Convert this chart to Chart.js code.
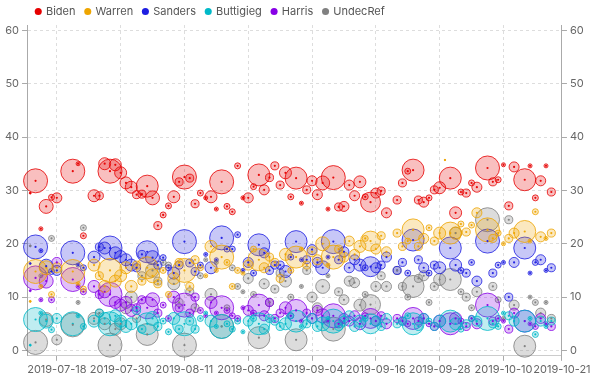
<!DOCTYPE html>
<html><head><meta charset="utf-8">
<script src="https://cdn.jsdelivr.net/npm/chart.js@4/dist/chart.umd.min.js"></script>
<style>html,body{margin:0;padding:0;background:#fff;}#wrap{width:599px;height:378px;position:relative;}</style>
</head><body><div id="wrap"><canvas id="c" width="599" height="378"></canvas></div>
<script>
const pollDates = ['2019-07-13','2019-07-14','2019-07-15','2019-07-16','2019-07-17','2019-07-18','2019-07-21','2019-07-22','2019-07-23','2019-07-25','2019-07-26','2019-07-27','2019-07-28','2019-07-29','2019-07-30','2019-07-31','2019-08-01','2019-08-02','2019-08-03','2019-08-04','2019-08-05','2019-08-06','2019-08-07','2019-08-08','2019-08-09','2019-08-10','2019-08-11','2019-08-12','2019-08-13','2019-08-14','2019-08-15','2019-08-16','2019-08-17','2019-08-18','2019-08-19','2019-08-20','2019-08-21','2019-08-22','2019-08-23','2019-08-24','2019-08-25','2019-08-26','2019-08-27','2019-08-28','2019-08-29','2019-08-30','2019-08-31','2019-09-01','2019-09-02','2019-09-03','2019-09-04','2019-09-05','2019-09-06','2019-09-07','2019-09-08','2019-09-09','2019-09-10','2019-09-11','2019-09-12','2019-09-13','2019-09-14','2019-09-15','2019-09-16','2019-09-17','2019-09-18','2019-09-20','2019-09-21','2019-09-22','2019-09-23','2019-09-24','2019-09-25','2019-09-26','2019-09-27','2019-09-28','2019-09-29','2019-09-30','2019-10-01','2019-10-02','2019-10-03','2019-10-04','2019-10-05','2019-10-07','2019-10-08','2019-10-09','2019-10-10','2019-10-11','2019-10-12','2019-10-14','2019-10-15','2019-10-16','2019-10-17','2019-10-18','2019-10-19'];
const sampleSizes = [110,16000,450,5400,1000,2800,16000,450,1000,4000,1800,4000,16000,4000,4000,4000,4000,1800,1800,13400,5400,1800,1000,1000,4000,1800,16000,1800,1800,1000,450,4000,450,16000,1000,1000,1000,450,2800,1000,13400,2800,1800,1800,1800,4000,1000,13400,450,1800,2800,2800,5400,450,16000,1800,2800,2800,2800,4000,1000,11000,2800,1800,2800,1800,1800,1000,13400,1800,2800,1000,1800,4000,60,13400,4000,1000,1800,1000,2800,16000,1800,1000,450,1800,2800,13400,450,1000,2800,450,1800];
const biden = [29.5,31.8,22.8,27.0,28.7,28.6,33.6,35.0,21.5,29.0,29.0,35.0,33.6,34.8,33.3,31.4,30.6,29.2,29.3,30.8,28.6,23.4,25.4,27.1,28.8,31.6,32.5,32.3,27.5,29.5,28.6,28.8,26.5,31.6,27.0,26.0,34.6,28.6,28.6,30.7,32.9,30.1,32.4,34.6,31.0,33.3,28.8,32.3,27.6,30.1,31.8,29.2,31.4,26.5,32.4,26.9,27.0,31.0,29.0,31.6,28.8,27.8,29.5,29.9,25.8,28.2,31.4,33.6,33.8,28.2,27.8,28.6,30.1,30.5,null,32.3,25.8,29.7,29.5,31.4,30.6,34.2,31.6,32.0,34.8,27.1,34.4,32.0,34.6,28.6,31.8,34.6,29.7];
const warren = [9.2,14.8,12.0,15.5,10.5,15.5,14.8,12.5,11.5,16.0,14.0,12.0,15.0,13.0,14.0,15.5,12.0,16.0,13.0,15.5,14.0,12.5,15.0,10.5,13.5,16.5,15.0,12.0,17.0,15.5,14.0,19.5,15.0,17.5,16.5,12.0,15.0,14.5,16.0,19.0,17.0,15.5,17.5,16.5,13.5,18.0,15.0,17.5,19.0,16.0,18.5,17.0,20.0,16.0,17.5,19.0,17.5,20.5,18.0,19.5,21.0,20.5,19.0,21.5,18.5,22.0,19.5,20.5,22.6,19.5,21.0,23.0,20.5,22.0,35.7,22.0,22.0,23.7,22.2,23.5,25.8,22.6,21.0,22.0,20.0,21.0,22.0,22.3,20.5,26.0,21.3,21.0,22.0];
const sanders = [16.3,19.4,18.7,15.8,14.8,15.0,18.3,16.0,15.5,17.5,19.4,19.2,19.2,18.3,17.6,17.0,16.0,15.5,18.0,18.5,17.4,16.0,17.4,15.5,14.5,16.0,20.4,16.4,14.8,16.0,18.0,15.5,17.0,21.1,19.0,19.0,21.7,15.0,16.5,14.5,19.8,18.3,15.0,16.0,16.0,14.8,17.5,20.4,17.0,17.0,18.9,16.5,15.5,17.5,20.4,17.0,18.5,15.5,17.0,16.0,15.5,15.7,15.5,16.0,17.5,15.0,16.5,14.5,20.7,17.0,15.5,14.5,16.0,15.5,null,19.2,16.0,15.0,14.5,16.5,13.0,20.5,14.5,16.0,16.5,10.0,16.5,19.2,14.5,16.5,17.0,15.0,15.5];
const buttigieg = [1.0,5.8,7.0,5.5,3.9,6.0,5.0,6.5,4.5,5.5,7.0,6.0,5.0,6.5,5.5,4.5,5.0,7.5,4.0,5.0,6.0,4.5,5.5,3.5,6.0,4.0,5.0,5.5,4.0,6.0,7.0,5.5,4.5,4.5,5.0,4.0,5.5,3.5,5.5,6.0,5.0,4.0,6.0,5.5,4.5,5.0,6.5,5.5,4.5,5.0,6.0,4.5,5.0,6.0,5.5,4.5,5.5,6.5,4.5,5.5,6.0,5.0,5.5,4.5,6.0,5.0,5.5,6.5,5.0,4.5,6.0,5.5,4.5,5.5,null,5.5,5.0,4.0,5.0,6.0,5.5,6.0,5.0,4.5,7.0,6.5,5.5,5.5,6.0,3.0,5.5,4.5,5.5];
const harris = [11.2,13.6,9.5,13.0,9.5,16.5,13.3,12.0,11.0,12.0,10.5,11.0,10.5,9.0,8.5,9.0,7.5,8.0,9.5,8.0,9.5,7.0,8.5,6.0,10.0,8.0,8.5,7.0,10.0,7.5,6.5,9.0,7.0,8.0,7.5,6.5,6.0,8.0,7.5,7.0,8.5,6.5,9.0,6.0,7.0,8.0,6.5,7.5,5.5,7.0,6.0,7.5,6.5,5.5,6.5,5.0,6.0,5.5,6.5,5.0,6.5,6.0,5.5,6.5,5.0,6.0,5.5,5.0,6.0,5.5,6.0,5.0,4.5,5.5,null,5.0,6.0,5.5,4.5,6.0,5.0,8.5,5.5,6.0,5.5,4.0,7.0,5.5,5.0,4.5,6.0,5.0,4.5];
const undecRef = [19.6,1.5,14.0,5.8,21.0,2.0,4.8,9.0,23.0,6.0,7.0,5.0,1.0,4.0,5.0,8.0,10.0,6.0,14.0,3.0,15.0,13.0,16.5,16.0,12.5,9.0,1.0,11.0,8.0,14.0,17.0,10.5,16.5,4.5,8.0,15.5,12.0,11.0,13.5,10.5,2.4,12.5,9.0,11.5,14.5,13.0,10.0,2.0,12.0,15.0,10.0,8.0,12.0,14.0,4.0,11.0,9.5,13.0,12.7,8.5,10.5,8.6,12.0,14.0,12.0,15.0,12.0,10.0,12.0,13.5,14.0,9.0,12.0,13.3,null,13.3,22.0,11.0,10.0,8.0,11.0,24.5,12.0,9.5,6.0,24.5,8.5,0.8,10.0,9.0,7.0,9.0,6.0];
const seriesNames = ['Biden','Warren','Sanders','Buttigieg','Harris','UndecRef'];
const xTickLabels = ['2019-07-18','2019-07-30','2019-08-11','2019-08-23','2019-09-04','2019-09-16','2019-09-28','2019-10-10','2019-10-21'];
const yTickValues = [0,10,20,30,40,50,60];

const seriesValues = [biden, warren, sanders, buttigieg, harris, undecRef];
const colors = [[230,0,0],[238,165,0],[30,30,225],[0,185,200],[135,0,230],[128,128,128]];
const DAY = 86400000;
const origin = Date.parse(xTickLabels[0] + 'T00:00:00Z');
const toDay = s => (Date.parse(s + 'T00:00:00Z') - origin) / DAY;
const tickDays = xTickLabels.map(toDay);
const fmt = d => new Date(origin + Math.round(d) * DAY).toISOString().slice(0, 10);
const rgba = (c, a) => `rgba(${c[0]},${c[1]},${c[2]},${a})`;

const datasets = seriesNames.map((name, i) => {
  const pts = [];
  seriesValues[i].forEach((v, k) => {
    if (v === null) return;
    pts.push({x: toDay(pollDates[k]), y: v, r: 0.095 * Math.sqrt(sampleSizes[k])});
  });
  const c = colors[i];
  return {
    label: name, data: pts,
    backgroundColor: rgba(c, i === 5 ? 0.28 : 0.25),
    borderColor: rgba(c, 0.8),
    borderWidth: 1,
    dotColor: rgba(c, 0.95),
    legendColor: rgba(c, 1),
    clip: false
  };
});

const centerDots = {
  id: 'centerDots',
  afterDatasetsDraw(chart) {
    const ctx = chart.ctx;
    chart.data.datasets.forEach((ds, i) => {
      const meta = chart.getDatasetMeta(i);
      ctx.save();
      ctx.fillStyle = ds.dotColor;
      meta.data.forEach(el => {
        ctx.beginPath(); ctx.arc(el.x, el.y, 1.1, 0, Math.PI * 2); ctx.fill();
      });
      ctx.restore();
    });
  }
};
const legendShift = {
  id: 'legendShift',
  afterLayout(chart) { chart.legend.left += 24; chart.legend.top += 2; }
};

const FONT = {family: 'Inter, "Noto Sans", sans-serif', size: 11};
const yCommon = {
  min: -1, max: 61,
  afterBuildTicks(s) { s.ticks = yTickValues.map(v => ({value: v})); },
  ticks: {color: '#666', font: FONT, padding: 3},
  border: {display: true, color: '#aaa', width: 1, dash: [3, 3]},
};

new Chart(document.getElementById('c'), {
  type: 'bubble',
  data: {datasets},
  options: {
    responsive: false, animation: false, maintainAspectRatio: false,
    devicePixelRatio: 1,
    layout: {padding: {top: -6, right: 12, left: 2, bottom: 0}},
    plugins: {
      legend: {
        align: 'start',
        labels: {
          usePointStyle: true, pointStyle: 'circle', boxWidth: 4.5, boxHeight: 5,
          color: '#555', font: FONT, padding: 10,
          generateLabels(chart) {
            return chart.data.datasets.map((ds, i) => ({
              text: ds.label, fillStyle: ds.legendColor, strokeStyle: ds.legendColor,
              lineWidth: 0, pointStyle: 'circle', datasetIndex: i, hidden: false, fontColor: '#555'
            }));
          }
        }
      },
      tooltip: {enabled: false}
    },
    scales: {
      x: {
        type: 'linear', min: -5.6, max: 95,
        afterBuildTicks(s) { s.ticks = tickDays.map(v => ({value: v})); },
        ticks: {color: '#666', font: FONT, maxRotation: 0, autoSkip: false, padding: 2, callback: v => fmt(v)},
        grid: {color: '#ddd', tickColor: '#aaa', tickLength: 5, tickBorderDash: []},
        border: {display: true, color: '#ccc', width: 1, dash: [3, 3]}
      },
      y: Object.assign({position: 'left', grid: {color: '#ddd', tickColor: '#aaa', tickLength: 5, tickBorderDash: []}}, yCommon),
      y2: Object.assign({position: 'right', grid: {drawOnChartArea: false, color: '#ddd', tickColor: '#aaa', tickLength: 5}}, yCommon)
    }
  },
  plugins: [centerDots, legendShift]
});
</script></body></html>
